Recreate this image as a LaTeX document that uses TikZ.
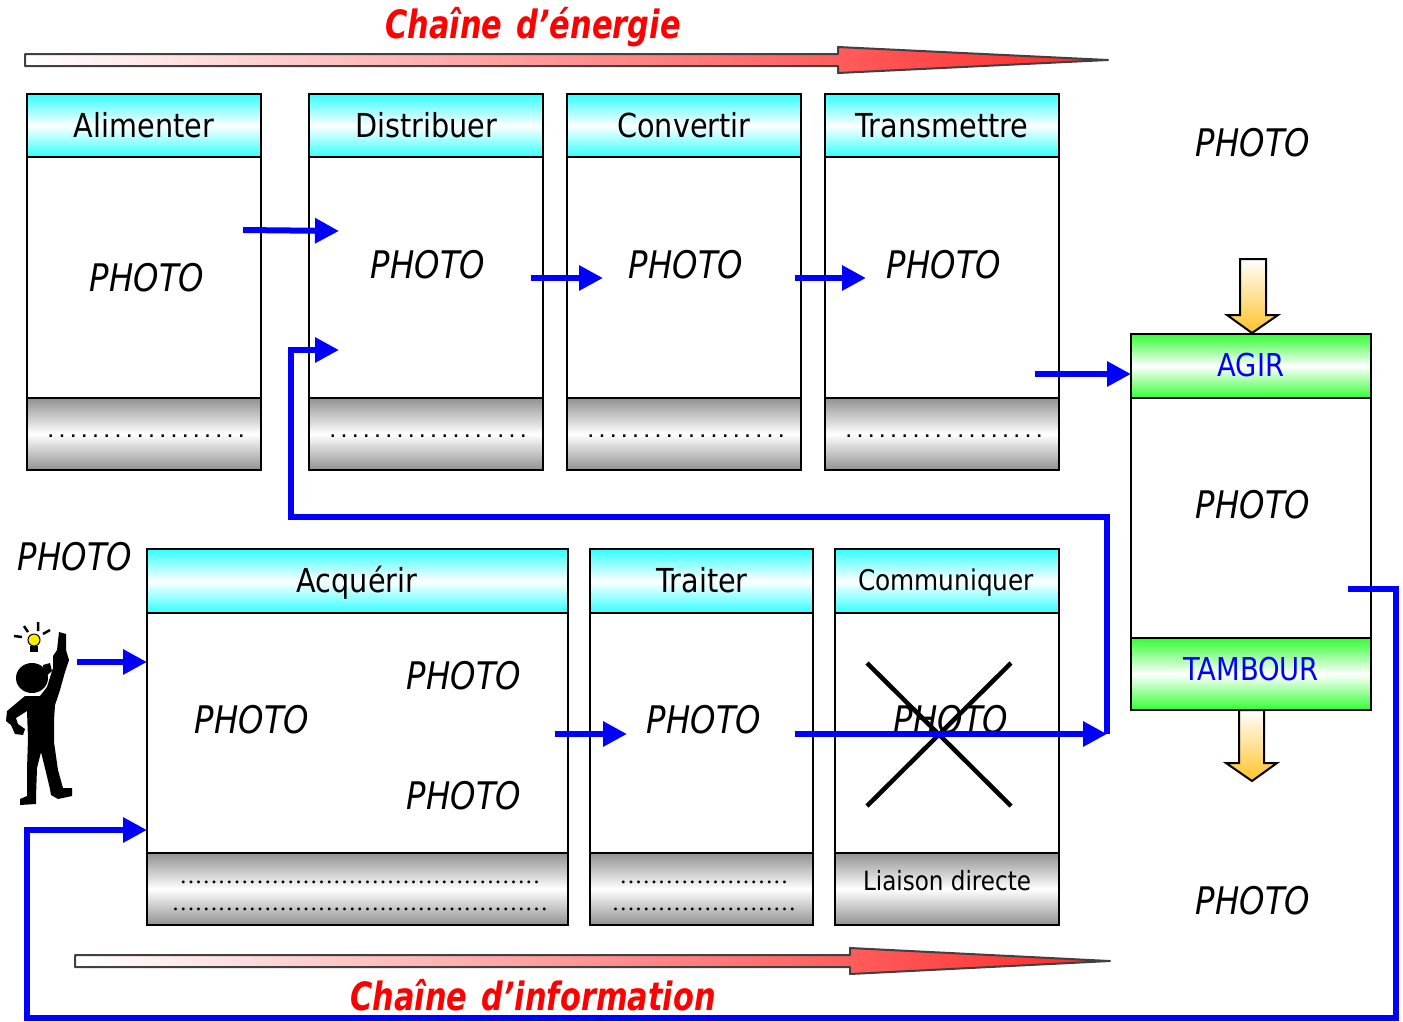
\documentclass[tikz,border=0pt]{standalone}
\usepackage{fontspec}
\usetikzlibrary{arrows.meta}

\newfontfamily\boxfont{DejaVu Sans}[FakeStretch=0.87]
\newfontfamily\photofont{DejaVu Sans}[FakeStretch=0.85]
\newfontfamily\titlefont{DejaVu Sans}[FakeStretch=0.78]
\newfontfamily\widedots{Liberation Sans}[LetterSpace=17]
\newfontfamily\narrowdots{Liberation Serif}[LetterSpace=7]
\newcommand\dotrow[1]{\foreach \k in {1,...,#1}{.}}

\definecolor{hdcyan}{RGB}{51,255,255}
\definecolor{ftgray}{RGB}{145,145,145}
\definecolor{actgreen}{RGB}{51,255,51}
\definecolor{linkblue}{RGB}{0,0,255}
\definecolor{titlered}{RGB}{255,0,0}
\definecolor{supplyorange}{RGB}{255,195,40}
\definecolor{bulbyellow}{RGB}{255,235,0}

\begin{document}
\begin{tikzpicture}[x=1pt,y=-1pt,
  frame/.style={draw=black,line width=2pt},
  headbox/.style={frame,top color=hdcyan,bottom color=hdcyan,middle color=white},
  footbox/.style={frame,top color=ftgray,bottom color=ftgray,middle color=white},
  greenbox/.style={frame,top color=actgreen,bottom color=actgreen,middle color=white},
  bodybox/.style={frame,fill=white},
  label/.style={inner sep=0pt,font=\boxfont\fontsize{33}{38}\selectfont},
  smalllabel/.style={inner sep=0pt,font=\boxfont\fontsize{28.5}{32}\selectfont},
  actlabel/.style={inner sep=0pt,text=linkblue,font=\boxfont\fontsize{31.5}{36}\selectfont},
  photo/.style={inner sep=0pt,font=\photofont\itshape\fontsize{38}{44}\selectfont},
  bigdots/.style={inner sep=0pt,font=\widedots\fontsize{25}{28}\selectfont},
  finedots/.style={inner sep=0pt,font=\narrowdots\fontsize{24}{28}\selectfont},
  chaintitle/.style={inner sep=0pt,text=titlered,font=\titlefont\bfseries\itshape\fontsize{39}{45}\selectfont},
  chainarrow/.style={draw=black!75,line width=2pt,left color=white,right color=red!85!white,line join=round},
  supply/.style={draw=black,line width=2pt,top color=white,bottom color=supplyorange},
  link/.style={draw=linkblue,line width=6pt,-{Triangle[length=24pt,width=24pt]}},
  cross/.style={draw=black,line width=4.5pt},
]
\useasboundingbox (0,0) rectangle (1403,1021);

% ---- energy chain banner ----
\draw[chainarrow] (25,54) -- (838,54) -- (838,47) -- (1108,60) -- (838,73) -- (838,66) -- (25,66) -- cycle;
\node[chaintitle] (energyTitle) at (533,27) {Chaîne\hspace{14pt}d’énergie};

% ---- energy chain blocks ----
\foreach \xl/\xr/\txt/\id in {27/261/Alimenter/alim,309/543/Distribuer/dist,567/801/Convertir/conv,825/1059/Transmettre/trans}{
  \draw[headbox] (\xl,94) rectangle (\xr,157);
  \draw[bodybox] (\xl,157) rectangle (\xr,398);
  \draw[footbox] (\xl,398) rectangle (\xr,470);
  \node[label,anchor=base] (\id-head) at ({(\xl+\xr)/2},137) {\txt};
  \node[bigdots] (\id-foot) at ({(\xl+\xr)/2+2},436) {\dotrow{18}};
}
\node[photo] (alimPhoto) at (147,278) {PHOTO};
\node[photo] (distPhoto) at (428,265) {PHOTO};
\node[photo] (convPhoto) at (686,265) {PHOTO};
\node[photo] (transPhoto) at (944,265) {PHOTO};

% ---- effector block ----
\node[photo] (effPhoto) at (1253,143) {PHOTO};
\draw[supply] (1240,259) -- (1266,259) -- (1266,315) -- (1278,315) -- (1252,333) -- (1227,315) -- (1240,315) -- cycle;
\draw[greenbox] (1131,334) rectangle (1371,398);
\draw[bodybox] (1131,398) rectangle (1371,638);
\draw[greenbox] (1131,638) rectangle (1371,710);
\node[actlabel,anchor=base] (agir) at (1251,376) {AGIR};
\node[actlabel,anchor=base] (tambour) at (1251,680) {TAMBOUR};
\node[photo] (agirPhoto) at (1253,505) {PHOTO};
\draw[supply] (1239,710) -- (1264,710) -- (1264,763) -- (1277,763) -- (1252,781) -- (1226,763) -- (1239,763) -- cycle;
\node[photo] (outPhoto) at (1253,901) {PHOTO};

% ---- information chain blocks ----
\draw[headbox] (147,549) rectangle (568,613);
\draw[bodybox] (147,613) rectangle (568,853);
\draw[footbox] (147,853) rectangle (568,925);
\draw[headbox] (590,549) rectangle (813,613);
\draw[bodybox] (590,613) rectangle (813,853);
\draw[footbox] (590,853) rectangle (813,925);
\draw[headbox] (835,549) rectangle (1059,613);
\draw[bodybox] (835,613) rectangle (1059,853);
\draw[footbox] (835,853) rectangle (1059,925);
\node[label,anchor=base] (acqHead) at (357,592) {Acquérir};
\node[label,anchor=base] (traitHead) at (702,592) {Traiter};
\node[smalllabel,anchor=base] (comHead) at (946,590) {Communiquer};
\node[finedots] (acqFootA) at (360,882) {\dotrow{47}};
\node[finedots] (acqFootB) at (360,909) {\dotrow{49}};
\node[finedots] (traitFootA) at (704,882) {\dotrow{22}};
\node[finedots] (traitFootB) at (704,909) {\dotrow{24}};
\node[smalllabel,font=\boxfont\fontsize{26.5}{30}\selectfont,anchor=base] (comFoot) at (947,890) {Liaison directe};

\node[photo] (userPhoto) at (75,557) {PHOTO};
\node[photo] (acqPhotoA) at (252,720) {PHOTO};
\node[photo] (acqPhotoB) at (464,676) {PHOTO};
\node[photo] (acqPhotoC) at (464,796) {PHOTO};
\node[photo] (traitPhoto) at (704,720) {PHOTO};
\node[photo] (comPhoto) at (951,720) {PHOTO};
\draw[cross] (867,663) -- (1011,806);
\draw[cross] (1011,663) -- (867,806);

% ---- information chain banner ----
\draw[chainarrow] (75,955) -- (850,955) -- (850,948) -- (1110,961) -- (850,974) -- (850,967) -- (75,967) -- cycle;
\node[chaintitle] (infoTitle) at (533,995) {Chaîne\hspace{14pt}d’information};

% ---- user with an idea ----
\fill[black] (25,696) -- (7,711) -- (6,721) -- (11,725) -- (15,734) -- (23,735) -- (25,729) -- (18,724) -- (16,718) -- (27,711)
  -- (28,738) -- (27,770) -- (27,796) -- (20,799) -- (20,805) -- (36,804) -- (36,797) -- (37,768) -- (41,752) -- (45,768)
  -- (50,789) -- (51,795) -- (58,799) -- (72,796) -- (72,788) -- (63,788) -- (58,770) -- (54,742) -- (54,720) -- (55,705)
  -- (60,690) -- (65,672) -- (69,660) -- (66,650) -- (66,634) -- (59,632) -- (57,650) -- (53,656) -- (53,668) -- (47,687)
  -- (40,696) -- cycle;
\fill[black] (32,678) ellipse [x radius=16pt,y radius=15pt];
\fill[black] (43,665) -- (50,663) -- (52,671) -- (45,677) -- cycle;
\fill[black] (30,646) rectangle (38,652);
\filldraw[fill=bulbyellow,draw=black,line width=1pt] (34,640) circle [radius=6pt];
\draw[black,line width=2.5pt] (14,636) -- (22,637) (24,626) -- (28,632) (38,622) -- (38,631) (43,634) -- (50,630);

% ---- connectors ----
\coordinate (alimOut) at (243,230);  \coordinate (distIn) at (339,231);
\coordinate (distOut) at (531,278);  \coordinate (convIn) at (603,278);
\coordinate (convOut) at (795,278);  \coordinate (transIn) at (866,278);
\coordinate (transOut) at (1035,374); \coordinate (agirIn) at (1131,374);
\coordinate (userOut) at (77,662);   \coordinate (acqIn) at (147,662);
\coordinate (acqOut) at (555,734);   \coordinate (traitIn) at (627,734);
\coordinate (traitOut) at (795,734); \coordinate (orderTurn) at (1107,734);
\coordinate (distOrder) at (339,350);
\coordinate (agirOut) at (1348,589); \coordinate (acqFeedback) at (147,830);

\draw[link] (alimOut) -- (distIn);
\draw[link] (distOut) -- (convIn);
\draw[link] (convOut) -- (transIn);
\draw[link] (transOut) -- (agirIn);
\draw[link] (userOut) -- (acqIn);
\draw[link] (acqOut) -- (traitIn);
\draw[link] (traitOut) -- (orderTurn);
\draw[link] (orderTurn) -- (1107,517) -- (291,517) -- (291,350) -- (distOrder);
\draw[link] (agirOut) -- (1396,589) -- (1396,1018) -- (27,1018) -- (27,830) -- (acqFeedback);
\end{tikzpicture}
\end{document}
